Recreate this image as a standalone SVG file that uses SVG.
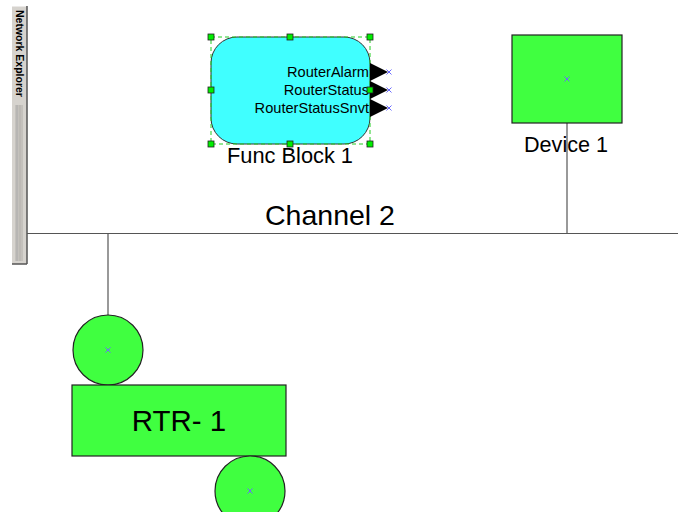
<svg xmlns="http://www.w3.org/2000/svg" width="678" height="512" viewBox="0 0 678 512">
  <style>
    .lbl { font-family: "Liberation Sans", Arial, sans-serif; fill: #000; }
    .node { fill: #40ff40; stroke: #222; stroke-width: 1.2; }
    .wire { stroke: #555; stroke-width: 1.2; fill: none; }
    .handle { fill: #00ee00; stroke: #222; stroke-width: 0.8; }
    .xmark { stroke: #6a6aff; stroke-width: 1; }
  </style>
  <defs>
    <g id="xm">
      <line class="xmark" x1="-2.5" y1="-2.5" x2="2.5" y2="2.5"/>
      <line class="xmark" x1="-2.5" y1="2.5" x2="2.5" y2="-2.5"/>
    </g>
    <polygon id="port" points="0,-9 18,0 0,9" fill="#000"/>
  </defs>
  <rect width="678" height="512" fill="#fff"/>

  <!-- docked side panel -->
  <g id="side-panel">
    <rect x="12" y="6" width="15" height="258" fill="#d6d3ce"/>
    <line x1="27" y1="6" x2="27" y2="264" stroke="#555" stroke-width="1.5"/>
    <line x1="12" y1="264" x2="27" y2="264" stroke="#555" stroke-width="1.5"/>
    <line x1="12" y1="6" x2="26" y2="6" stroke="#fff" stroke-width="1"/>
    <rect x="15" y="105" width="8" height="156" fill="#c4c1bc"/>
    <line x1="17" y1="105" x2="17" y2="261" stroke="#aaa" stroke-width="1"/>
    <line x1="20" y1="105" x2="20" y2="261" stroke="#b5b2ad" stroke-width="1"/>
    <text class="lbl" transform="translate(15.5,10) rotate(90)" font-size="10.5" font-weight="bold">Network Explorer</text>
  </g>

  <!-- connectors -->
  <g id="connectors">
    <line class="wire" x1="27" y1="233.5" x2="678" y2="233.5"/>
    <line class="wire" x1="567" y1="123" x2="567" y2="233"/>
    <line class="wire" x1="108" y1="233" x2="108" y2="315"/>
  </g>
  <text class="lbl" x="330" y="225" font-size="28.5" text-anchor="middle">Channel 2</text>

  <!-- function block -->
  <g id="func-block-1">
    <rect x="211" y="37" width="159" height="107" rx="26" fill="#40ffff" stroke="#333" stroke-width="1"/>
    <rect x="211" y="37" width="159" height="107" fill="none" stroke="#22cc22" stroke-width="1" stroke-dasharray="4,3"/>
    <use href="#port" x="370" y="72"/>
    <use href="#port" x="370" y="90"/>
    <use href="#port" x="370" y="108"/>
    <use href="#xm" x="389" y="72"/>
    <use href="#xm" x="389" y="90"/>
    <use href="#xm" x="389" y="108"/>
    <text class="lbl" x="369" y="77" font-size="14.6" text-anchor="end">RouterAlarm</text>
    <text class="lbl" x="369" y="95" font-size="14.6" text-anchor="end">RouterStatus</text>
    <text class="lbl" x="369" y="113" font-size="14.6" text-anchor="end">RouterStatusSnvt</text>
    <rect class="handle" x="208" y="34" width="6" height="6"/>
    <rect class="handle" x="287" y="34" width="6" height="6"/>
    <rect class="handle" x="367" y="34" width="6" height="6"/>
    <rect class="handle" x="208" y="87" width="6" height="6"/>
    <rect class="handle" x="367" y="87" width="6" height="6"/>
    <rect class="handle" x="208" y="141" width="6" height="6"/>
    <rect class="handle" x="287" y="141" width="6" height="6"/>
    <rect class="handle" x="367" y="141" width="6" height="6"/>
    <text class="lbl" x="290" y="163" font-size="21.8" text-anchor="middle">Func Block 1</text>
  </g>

  <!-- device -->
  <g id="device-1">
    <rect class="node" x="512" y="35" width="110" height="88"/>
    <use href="#xm" x="567" y="79"/>
    <text class="lbl" x="566" y="152" font-size="21.6" text-anchor="middle">Device 1</text>
  </g>

  <!-- router -->
  <g id="rtr-1">
    <circle class="node" cx="108" cy="350" r="35"/>
    <use href="#xm" x="108" y="350"/>
    <rect class="node" x="72" y="385" width="214" height="71"/>
    <text class="lbl" x="179" y="431" font-size="29.5" text-anchor="middle">RTR- 1</text>
    <circle class="node" cx="250" cy="491" r="35"/>
    <use href="#xm" x="250" y="491"/>
  </g>
</svg>
